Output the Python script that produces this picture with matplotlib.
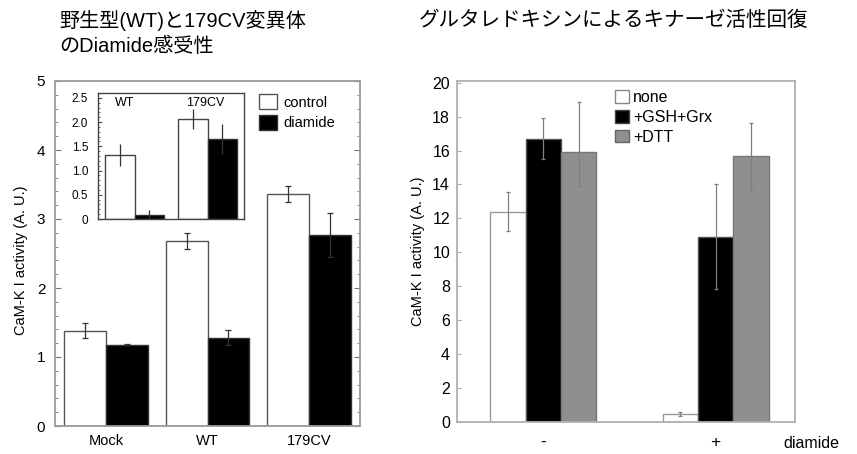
import matplotlib
matplotlib.use("Agg")
import matplotlib.pyplot as plt
import numpy as np
from matplotlib.patches import Patch
from matplotlib.ticker import MultipleLocator

plt.rcParams['font.family'] = ['Liberation Sans', 'Noto Sans CJK JP', 'DejaVu Sans']

# ---------------- data ----------------
left_title_1 = "野生型(WT)と179CV変異体"
left_title_2 = "のDiamide感受性"
right_title = "グルタレドキシンによるキナーゼ活性回復"
ylabel = "CaM-K I activity (A. U.)"

left_groups = ["Mock", "WT", "179CV"]
left_control = [1.38, 2.68, 3.36]
left_control_err = [0.11, 0.11, 0.12]
left_diamide = [1.18, 1.28, 2.77]
left_diamide_err = [0.01, 0.11, 0.32]
left_series = ["control", "diamide"]

inset_groups = ["WT", "179CV"]
inset_control = [1.32, 2.06]
inset_control_err = [0.22, 0.20]
inset_diamide = [0.08, 1.65]
inset_diamide_err = [0.10, 0.30]
inset_ticks = [0, 0.5, 1.0, 1.5, 2.0, 2.5]
inset_ticklabels = ["0", "0.5", "1.0", "1.5", "2.0", "2.5"]

right_groups = ["-", "+"]
right_series = ["none", "+GSH+Grx", "+DTT"]
right_none = [12.4, 0.47]
right_none_err = [1.15, 0.10]
right_gsh = [16.7, 10.93]
right_gsh_err = [1.2, 3.1]
right_dtt = [15.9, 15.65]
right_dtt_err_low = [2.0, 1.95]
right_dtt_err_high = [2.95, 2.0]
right_xlabel = "diamide"

# ---------------- figure ----------------
W, H = 857, 454
fig = plt.figure(figsize=(W / 100, H / 100), dpi=100)

def rect(x0, y0, x1, y1):
    return [x0 / W, 1 - y1 / H, (x1 - x0) / W, (y1 - y0) / H]

spine_gray = "#9a9a9a"

# ---------- left main axes ----------
ax = fig.add_axes(rect(55, 81, 360, 426))
x = np.arange(len(left_groups))
bw = 0.41
ax.bar(x - bw / 2, left_control, bw, color="white", edgecolor="#555555", linewidth=1.0)
ax.bar(x + bw / 2, left_diamide, bw, color="black", edgecolor="#333333", linewidth=1.0)
ax.errorbar(x - bw / 2, left_control, yerr=left_control_err, fmt="none",
            ecolor="#333333", elinewidth=0.9, capsize=2, capthick=0.9)
ax.errorbar(x + bw / 2, left_diamide, yerr=left_diamide_err, fmt="none",
            ecolor="#333333", elinewidth=0.9, capsize=2, capthick=0.9)
ax.set_xlim(-0.5, 2.5)
ax.set_ylim(0, 5)
ax.set_xticks(x)
ax.set_xticklabels(left_groups, fontsize=10.5)
ax.tick_params(axis="x", length=0, pad=6)
ax.yaxis.set_major_locator(MultipleLocator(1))
ax.yaxis.set_minor_locator(MultipleLocator(0.2))
ax.tick_params(axis="y", which="both", direction="in", right=True, color="#777777",
               labelsize=11, pad=7)
ax.tick_params(axis="y", which="major", length=4)
ax.tick_params(axis="y", which="minor", length=2)
for s in ax.spines.values():
    s.set_color(spine_gray)
    s.set_linewidth(1.3)
ax.set_ylabel(ylabel, fontsize=10.5)
ax.yaxis.set_label_coords(-0.09, 0.48)

handles = [Patch(facecolor="white", edgecolor="#555555", linewidth=1.0),
           Patch(facecolor="black", edgecolor="#333333", linewidth=1.0)]
fig.legend(handles, left_series, loc="upper left",
           bbox_to_anchor=(259 / W, 1 - 94 / H), frameon=False, fontsize=10.5,
           handlelength=1.25, handleheight=1.25, handletextpad=0.45,
           labelspacing=0.35, borderpad=0, borderaxespad=0)

# ---------- inset ----------
ia = fig.add_axes(rect(98, 93, 244, 219))
xi = np.arange(len(inset_groups))
ia.bar(xi - bw / 2, inset_control, bw, color="white", edgecolor="#444444", linewidth=1.0)
ia.bar(xi + bw / 2, inset_diamide, bw, color="black", edgecolor="#333333", linewidth=1.0)
ia.errorbar(xi - bw / 2, inset_control, yerr=inset_control_err, fmt="none",
            ecolor="#333333", elinewidth=0.9, capsize=0)
ia.errorbar(xi + bw / 2, inset_diamide, yerr=inset_diamide_err, fmt="none",
            ecolor="#333333", elinewidth=0.9, capsize=0)
ia.set_xlim(-0.5, 1.5)
ia.set_ylim(0, 2.6)
ia.set_xticks([])
ia.set_yticks(inset_ticks)
ia.set_yticklabels(inset_ticklabels, fontsize=8.5)
ia.yaxis.set_minor_locator(MultipleLocator(0.1))
ia.tick_params(axis="y", which="both", direction="in", color="#555555", pad=7)
ia.tick_params(axis="y", which="major", length=3)
ia.tick_params(axis="y", which="minor", length=1.5)
for s in ia.spines.values():
    s.set_color("#444444")
    s.set_linewidth(1.0)
ia.text(0.18, 0.92, inset_groups[0], transform=ia.transAxes, fontsize=9,
        ha="center", va="center")
ia.text(0.733, 0.92, inset_groups[1], transform=ia.transAxes, fontsize=9,
        ha="center", va="center")

# ---------- right axes ----------
ar = fig.add_axes(rect(457, 81, 795, 422))
xr = np.arange(len(right_groups))
rw = 0.205
ar.bar(xr - rw, right_none, rw, color="white", edgecolor="#999999", linewidth=1.0)
ar.bar(xr, right_gsh, rw, color="black", edgecolor="#555555", linewidth=1.0)
ar.bar(xr + rw, right_dtt, rw, color="#8f8f8f", edgecolor="#777777", linewidth=1.0)
ecol = "#808080"
ar.errorbar(xr - rw, right_none, yerr=right_none_err, fmt="none",
            ecolor=ecol, elinewidth=0.9, capsize=1.5, capthick=0.9)
ar.errorbar(xr, right_gsh, yerr=right_gsh_err, fmt="none",
            ecolor=ecol, elinewidth=0.9, capsize=1.5, capthick=0.9)
ar.errorbar(xr + rw, right_dtt, yerr=[right_dtt_err_low, right_dtt_err_high], fmt="none",
            ecolor=ecol, elinewidth=0.9, capsize=1.5, capthick=0.9)
ar.set_xlim(-0.5, 1.46)
ar.set_ylim(0, 20.1)
ar.set_yticks(np.arange(0, 21, 2))
ar.tick_params(axis="y", direction="in", length=3, color="#aaaaaa", labelsize=11.5, pad=5)
ar.set_xticks(xr)
ar.set_xticklabels(right_groups, fontsize=12.5)
ar.tick_params(axis="x", length=0, pad=9)
for s in ar.spines.values():
    s.set_color("#b0b0b0")
    s.set_linewidth(1.3)
ar.set_ylabel(ylabel, fontsize=10.5)
ar.yaxis.set_label_coords(-0.095, 0.5)
fig.text(783 / W, 1 - 444 / H, right_xlabel, fontsize=11.5, ha="left", va="center")

rhandles = [Patch(facecolor="white", edgecolor="#888888", linewidth=1.0),
            Patch(facecolor="black", edgecolor="#444444", linewidth=1.0),
            Patch(facecolor="#8f8f8f", edgecolor="#666666", linewidth=1.0)]
fig.legend(rhandles, right_series, loc="upper left",
           bbox_to_anchor=(615 / W, 1 - 90 / H), frameon=False, fontsize=11.5,
           handlelength=0.85, handleheight=0.85, handletextpad=0.3,
           labelspacing=0.3, borderpad=0, borderaxespad=0)

# ---------- titles ----------
tfam = ['Liberation Sans', 'Noto Sans CJK JP', 'DejaVu Sans']
fig.text(59 / W, 1 - 20 / H, left_title_1, fontsize=14.5, family=tfam, ha="left", va="center")
fig.text(59 / W, 1 - 46 / H, left_title_2, fontsize=14.5, family=tfam, ha="left", va="center")
fig.text(419 / W, 1 - 20 / H, right_title, fontsize=14.8, family=tfam, ha="left", va="center")

fig.savefig("out.png", dpi=100)
